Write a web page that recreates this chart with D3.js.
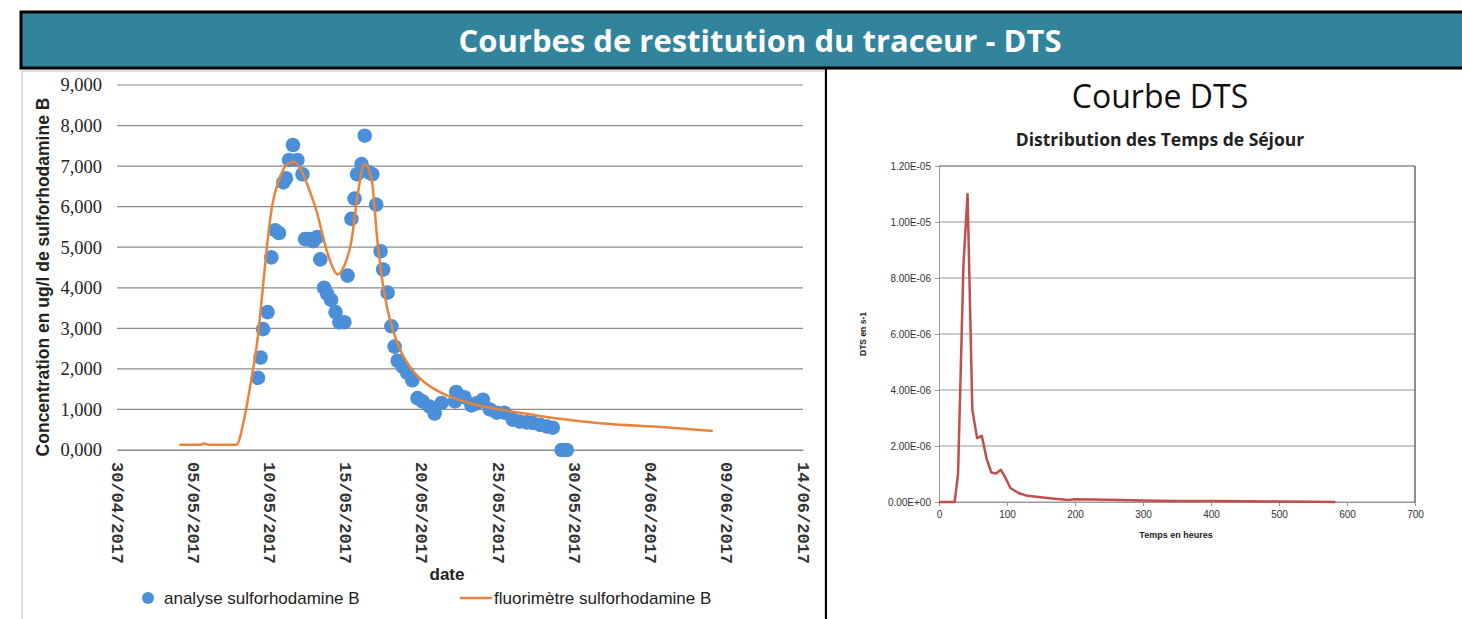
<!DOCTYPE html>
<html>
<head>
<meta charset="utf-8">
<script src="https://cdn.jsdelivr.net/npm/d3@7"></script>
<style>
  body { margin: 0; background: #fff; }
  svg { display: block; }
</style>
</head>
<body>
<div id="chart"></div>
<script>
// analyse sulforhodamine B (lab samples), ug/l
var analyseDates = [
  "2017-05-09 06:00","2017-05-09 10:00","2017-05-09 14:00","2017-05-09 21:00","2017-05-10 03:00",
  "2017-05-10 09:00","2017-05-10 15:00","2017-05-10 22:00","2017-05-11 02:00","2017-05-11 07:00",
  "2017-05-11 13:00","2017-05-11 20:00","2017-05-12 04:00","2017-05-12 08:00","2017-05-12 15:00",
  "2017-05-12 21:00","2017-05-13 03:00","2017-05-13 08:00","2017-05-13 14:00","2017-05-13 19:00",
  "2017-05-14 01:00","2017-05-14 08:00","2017-05-14 14:00","2017-05-14 22:00","2017-05-15 03:00",
  "2017-05-15 09:00","2017-05-15 14:00","2017-05-15 18:00","2017-05-16 01:00","2017-05-16 06:00",
  "2017-05-16 12:00","2017-05-16 18:00","2017-05-17 00:00","2017-05-17 07:00","2017-05-17 11:00",
  "2017-05-17 18:00","2017-05-18 00:00","2017-05-18 05:00","2017-05-18 10:00","2017-05-18 18:00",
  "2017-05-19 01:00","2017-05-19 09:00","2017-05-19 17:00","2017-05-20 01:00","2017-05-20 12:00",
  "2017-05-20 20:00","2017-05-21 07:00","2017-05-22 04:00","2017-05-22 06:00","2017-05-22 19:00",
  "2017-05-23 06:00","2017-05-23 14:00","2017-05-24 00:00","2017-05-24 11:00","2017-05-24 22:00",
  "2017-05-25 10:00","2017-05-25 23:00","2017-05-26 10:00","2017-05-26 21:00","2017-05-27 06:00",
  "2017-05-27 18:00","2017-05-28 05:00","2017-05-28 14:00","2017-05-29 04:00","2017-05-29 12:00"
];
var analyseValues = [
  1780, 2280, 2980, 3400, 4750,
  5420, 5350, 6600, 6700, 7150,
  7520, 7150, 6800, 5200, 5200,
  5150, 5250, 4700, 4000, 3850,
  3700, 3400, 3150, 3150, 4300,
  5700, 6200, 6800, 7050, 7750,
  6850, 6800, 6050, 4900, 4450,
  3880, 3050, 2550, 2200, 2050,
  1900, 1720, 1280, 1200, 1070,
  900, 1160, 1200, 1430, 1300,
  1100, 1150, 1240, 1000, 920,
  920, 750, 700, 680, 670,
  620, 580, 550, 0, 0
];

// fluorimètre sulforhodamine B (continuous record), ug/l
var fluoDates = [
  "2017-05-04 02:00","2017-05-05 12:00","2017-05-05 17:00","2017-05-06 01:00","2017-05-07 20:00",
  "2017-05-08 08:00","2017-05-08 19:00","2017-05-09 05:00","2017-05-09 13:00","2017-05-09 21:00",
  "2017-05-10 04:00","2017-05-10 15:00","2017-05-11 04:00","2017-05-11 15:00","2017-05-12 02:00",
  "2017-05-12 15:00","2017-05-13 03:00","2017-05-13 14:00","2017-05-14 01:00","2017-05-14 11:00",
  "2017-05-14 22:00","2017-05-15 09:00","2017-05-15 18:00","2017-05-16 06:00","2017-05-16 17:00",
  "2017-05-17 02:00","2017-05-17 10:00","2017-05-17 18:00","2017-05-18 05:00","2017-05-18 16:00",
  "2017-05-19 05:00","2017-05-19 20:00","2017-05-20 20:00","2017-05-21 19:00","2017-05-23 03:00",
  "2017-05-25 02:00","2017-05-27 02:00","2017-05-29 01:00","2017-05-31 16:00","2017-06-04 23:00",
  "2017-06-08 02:00"
];
var fluoValues = [
  130, 130, 160, 130, 130,
  750, 1700, 2700, 3900, 5150,
  6000, 6650, 7050, 7100, 6900,
  6400, 5850, 5150, 4600, 4330,
  4550, 5150, 6200, 7050, 6650,
  5150, 4150, 3450, 2830, 2400,
  2050, 1780, 1500, 1320, 1160,
  1000, 880, 770, 660, 560,
  470
];

var dateTicks = ["2017-04-30","2017-05-05","2017-05-10","2017-05-15","2017-05-20",
                 "2017-05-25","2017-05-30","2017-06-04","2017-06-09","2017-06-14"];
var concTicks = [0, 1000, 2000, 3000, 4000, 5000, 6000, 7000, 8000, 9000];

// DTS curve
var dtsHours = [0, 10, 23, 28, 36, 42, 49, 56, 63, 70, 77, 84, 91, 98, 105, 117, 130, 150, 170, 190,
                200, 250, 300, 350, 400, 450, 500, 550, 583];
var dtsValues = [0, 0, 0, 1.0e-6, 8.5e-6, 1.10e-5, 3.3e-6, 2.28e-6, 2.36e-6, 1.55e-6, 1.05e-6, 1.02e-6,
                 1.15e-6, 0.85e-6, 0.5e-6, 0.32e-6, 0.22e-6, 0.17e-6, 0.12e-6, 0.07e-6,
                 0.1e-6, 0.08e-6, 0.05e-6, 0.04e-6, 0.04e-6, 0.03e-6, 0.02e-6, 0.01e-6, 0];
var hourTicks = [0, 100, 200, 300, 400, 500, 600, 700];
var dtsTicks = [0, 2e-6, 4e-6, 6e-6, 8e-6, 1e-5, 1.2e-5];

var W = 1462, H = 619;
var svg = d3.select("#chart").append("svg").attr("width", W).attr("height", H);

// banner
svg.append("rect").attr("x", 21).attr("y", 12).attr("width", W).attr("height", 56)
  .attr("fill", "#31849B").attr("stroke", "#000").attr("stroke-width", 3);
svg.append("text").attr("x", 760).attr("y", 52).attr("text-anchor", "middle")
  .attr("fill", "#fff").style("font", "bold 31px 'Open Sans'")
  .text("Courbes de restitution du traceur - DTS");

// left panel frame
svg.append("rect").attr("x", 22).attr("y", 71).attr("width", 803).attr("height", 560)
  .attr("fill", "none").attr("stroke", "#bbb").attr("stroke-width", 1);
svg.append("line").attr("x1", 826).attr("x2", 826).attr("y1", 69).attr("y2", H)
  .attr("stroke", "#000").attr("stroke-width", 2);

// ---------- left chart ----------
var parseT = d3.timeParse("%Y-%m-%d %H:%M");
var parseD = d3.timeParse("%Y-%m-%d");
var fmt = d3.timeFormat("%d/%m/%Y");

var x = d3.scaleTime().domain([parseD(dateTicks[0]), parseD(dateTicks[dateTicks.length - 1])]).range([117, 803]);
var y = d3.scaleLinear().domain([0, 9000]).range([450, 85]);

var gL = svg.append("g");
gL.selectAll("line.grid").data(concTicks).enter().append("line")
  .attr("x1", 117).attr("x2", 803)
  .attr("y1", function(d) { return y(d); }).attr("y2", function(d) { return y(d); })
  .attr("stroke", "#8c8c8c").attr("stroke-width", 1.2);

var yAxis = gL.append("g").attr("transform", "translate(117,0)")
  .call(d3.axisLeft(y).tickValues(concTicks).tickSize(0).tickPadding(15)
    .tickFormat(function(d) { return d === 0 ? "0,000" : d3.format(",")(d); }));
yAxis.select(".domain").remove();
yAxis.selectAll("text").style("font", "18.5px 'Liberation Serif'").attr("fill", "#222");

var xAxis = gL.append("g").attr("transform", "translate(0,450)")
  .call(d3.axisBottom(x).tickValues(dateTicks.map(parseD)).tickSize(0).tickFormat(fmt));
xAxis.select(".domain").attr("stroke", "#8c8c8c").attr("stroke-width", 1.2);
xAxis.selectAll("text")
  .attr("transform", "rotate(90)").attr("text-anchor", "start")
  .attr("x", 12).attr("y", 0).attr("dy", "0.35em")
  .style("font", "bold 17px 'Liberation Mono'").attr("fill", "#333");

var line = d3.line()
  .x(function(d) { return x(d[0]); }).y(function(d) { return y(d[1]); })
  .curve(d3.curveMonotoneX);
var fluo = fluoDates.map(function(d, i) { return [parseT(d), fluoValues[i]]; });
var ana = analyseDates.map(function(d, i) { return [parseT(d), analyseValues[i]]; });

gL.selectAll("circle.pt").data(ana).enter().append("circle")
  .attr("cx", function(d) { return x(d[0]); }).attr("cy", function(d) { return y(d[1]); })
  .attr("r", 7.3).attr("fill", "#4A8FD8");

gL.append("path").datum(fluo).attr("d", line)
  .attr("fill", "none").attr("stroke", "#E8843C").attr("stroke-width", 2.5);

gL.append("text").attr("transform", "translate(49,277) rotate(-90)").attr("text-anchor", "middle")
  .style("font", "bold 17.5px 'Liberation Sans'").attr("fill", "#222")
  .text("Concentration en ug/l de sulforhodamine B");
gL.append("text").attr("x", 447).attr("y", 580).attr("text-anchor", "middle")
  .style("font", "bold 17px 'Liberation Sans'").attr("fill", "#222").text("date");

// legend
gL.append("circle").attr("cx", 148).attr("cy", 598).attr("r", 6).attr("fill", "#4A8FD8");
gL.append("text").attr("x", 164).attr("y", 604)
  .style("font", "17px 'Liberation Sans Narrow', 'Liberation Sans'").attr("fill", "#222")
  .text("analyse sulforhodamine B");
gL.append("line").attr("x1", 460).attr("x2", 492).attr("y1", 598).attr("y2", 598)
  .attr("stroke", "#E8843C").attr("stroke-width", 2.5);
gL.append("text").attr("x", 494).attr("y", 604)
  .style("font", "17px 'Liberation Sans Narrow', 'Liberation Sans'").attr("fill", "#222")
  .text("fluorimètre sulforhodamine B");

// ---------- right chart ----------
svg.append("text").attr("x", 1160).attr("y", 108).attr("text-anchor", "middle")
  .style("font", "32px 'Open Sans'").attr("fill", "#111").text("Courbe DTS");
svg.append("text").attr("x", 1160).attr("y", 146).attr("text-anchor", "middle")
  .style("font", "bold 17.5px 'Open Sans'").attr("fill", "#222").text("Distribution des Temps de Séjour");

var x2 = d3.scaleLinear().domain([0, 700]).range([939, 1415]);
var y2 = d3.scaleLinear().domain([0, 1.2e-5]).range([502, 166]);
var gR = svg.append("g");

gR.selectAll("line.grid").data(dtsTicks).enter().append("line")
  .attr("x1", 939).attr("x2", 1415)
  .attr("y1", function(d) { return y2(d); }).attr("y2", function(d) { return y2(d); })
  .attr("stroke", function(d) { return d === 1.2e-5 ? "#555" : "#999"; }).attr("stroke-width", 1);
gR.append("line").attr("x1", 1415).attr("x2", 1415).attr("y1", 166).attr("y2", 502)
  .attr("stroke", "#222").attr("stroke-width", 1);

var yA2 = gR.append("g").attr("transform", "translate(939,0)")
  .call(d3.axisLeft(y2).tickValues(dtsTicks).tickSize(4).tickPadding(4)
    .tickFormat(function(d) { return d.toExponential(2).toUpperCase().replace(/E([+-])(\d)$/, "E$10$2"); }));
yA2.select(".domain").attr("stroke", "#999");
yA2.selectAll(".tick line").attr("stroke", "#999");
yA2.selectAll("text").style("font", "10px 'Liberation Sans'").attr("fill", "#333");

var xA2 = gR.append("g").attr("transform", "translate(0,502)")
  .call(d3.axisBottom(x2).tickValues(hourTicks).tickSize(4).tickPadding(5));
xA2.select(".domain").attr("stroke", "#999");
xA2.selectAll(".tick line").attr("stroke", "#999");
xA2.selectAll("text").style("font", "10px 'Liberation Sans'").attr("fill", "#333");

var line2 = d3.line().x(function(d, i) { return x2(dtsHours[i]); }).y(function(d) { return y2(d); });
gR.append("path").datum(dtsValues).attr("d", line2)
  .attr("fill", "none").attr("stroke", "#C0504D").attr("stroke-width", 2.5).attr("stroke-linejoin", "round");

gR.append("text").attr("x", 1176).attr("y", 538).attr("text-anchor", "middle")
  .style("font", "bold 9px 'Liberation Sans'").attr("fill", "#222").text("Temps en heures");
gR.append("text").attr("transform", "translate(866,334) rotate(-90)").attr("text-anchor", "middle")
  .style("font", "bold 8.5px 'Liberation Sans'").attr("fill", "#222").text("DTS en s-1");
</script>
</body>
</html>
